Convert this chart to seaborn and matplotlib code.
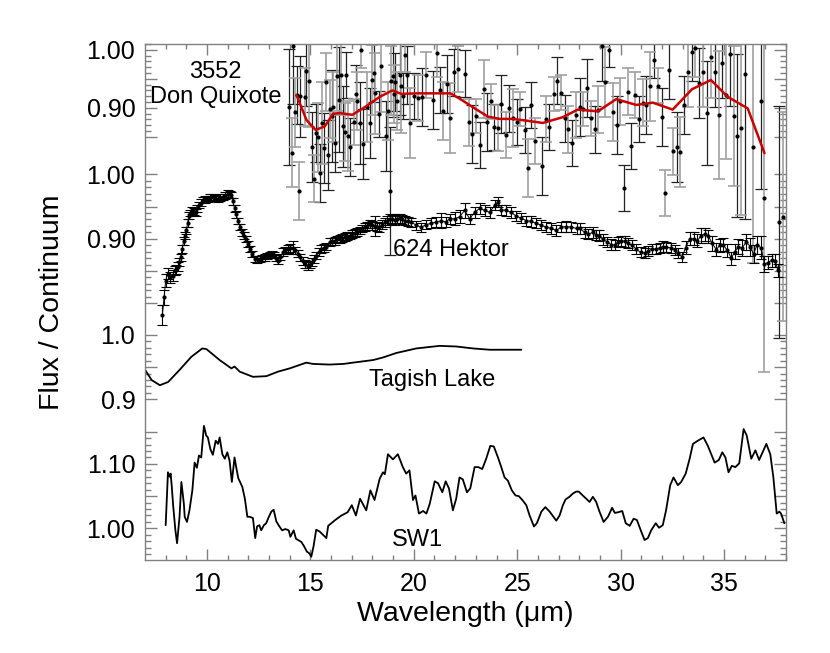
import numpy as np
import matplotlib
matplotlib.use("Agg")
import matplotlib.pyplot as plt
import seaborn as sns

# ---- 3552 Don Quixote: binned points with errors + smoothed curve ----
dq_wave = [13.98, 14.09, 14.17, 14.26, 14.36, 14.44, 14.52, 14.72, 14.81, 14.92,
           15.09, 15.18, 15.29, 15.36, 15.45, 15.54, 15.64, 15.73, 15.83, 15.94,
           16.02, 16.10, 16.21, 16.29, 16.37, 16.46, 16.58, 16.66, 16.74, 16.84,
           16.92, 17.10, 17.19, 17.26, 17.38, 17.46, 17.54, 17.73, 17.89, 17.97,
           18.06, 18.13, 18.31, 18.43, 18.64, 18.75, 18.83, 18.89, 18.97, 19.02,
           19.10, 19.18, 19.31, 19.39, 19.47, 19.57, 19.67, 19.83, 20.01, 20.20,
           20.40, 20.60, 20.92, 21.13, 21.25, 21.41, 21.61, 21.77, 21.94, 22.13,
           22.46, 22.66, 22.83, 23.02, 23.18, 23.38, 23.56, 23.72, 23.88, 24.07,
           24.24, 24.45, 24.60, 24.79, 24.98, 25.15, 25.37, 25.53, 25.68, 25.84,
           26.21, 26.40, 26.56, 26.76, 26.92, 27.10, 27.29, 27.46, 27.64, 27.82,
           28.02, 28.18, 28.37, 28.55, 28.74, 28.90, 29.10, 29.27, 29.43, 29.63,
           29.82, 29.98, 30.15, 30.35, 30.51, 30.72, 30.89, 31.07, 31.23, 31.43,
           31.60, 31.80, 32.00, 32.17, 32.33, 32.52, 32.72, 32.89, 33.05, 33.25,
           33.44, 33.62, 33.78, 33.98, 34.17, 34.35, 34.55, 34.74, 34.92, 35.12,
           35.27, 35.47, 35.64, 35.82, 36.04, 36.40, 36.77, 36.94, 37.66, 37.86]
dq_flux = [0.901, 0.823, 1.006, 0.892, 0.922, 0.757, 0.920, 0.918, 0.963, 0.947,
           0.832, 0.778, 0.856, 0.849, 0.787, 0.874, 0.831, 0.945, 0.819, 0.898,
           0.886, 0.901, 0.839, 0.955, 0.914, 0.957, 0.868, 0.859, 0.957, 0.851,
           0.833, 0.876, 0.924, 0.912, 0.874, 0.999, 0.838, 0.901, 0.874, 0.948,
           0.960, 0.925, 0.889, 0.972, 0.851, 0.895, 0.757, 0.947, 0.955, 0.924,
           0.945, 0.911, 0.957, 0.937, 0.920, 0.991, 0.957, 0.874, 0.920, 0.917,
           0.918, 0.957, 0.914, 0.994, 0.931, 0.895, 0.941, 0.882, 0.961, 0.967,
           0.959, 0.875, 0.855, 0.886, 0.836, 0.932, 0.876, 0.911, 0.867, 0.865,
           0.907, 0.853, 0.899, 0.882, 0.876, 0.898, 0.862, 0.796, 0.905, 0.843,
           0.800, 0.881, 0.867, 0.924, 0.947, 0.926, 0.882, 0.863, 0.839, 0.888,
           0.901, 0.898, 0.934, 0.882, 0.863, 0.897, 1.007, 0.944, 1.000, 0.893,
           0.871, 0.911, 0.762, 0.928, 0.834, 0.922, 0.881, 0.909, 0.905, 0.937,
           0.982, 0.938, 0.884, 0.753, 0.966, 0.825, 0.832, 0.824, 0.905, 0.962,
           0.997, 1.003, 0.943, 0.961, 0.891, 0.987, 0.961, 0.888, 0.977, 0.922,
           0.993, 0.886, 0.852, 0.866, 0.958, 0.833, 0.911, 0.745, 0.704, 0.712]
dq_err = [0.10, 0.06, 0.10, 0.06, 0.05, 0.05, 0.07, 0.05, 0.06, 0.08,
          0.06, 0.04, 0.05, 0.06, 0.05, 0.07, 0.06, 0.05, 0.06, 0.05,
          0.08, 0.06, 0.05, 0.06, 0.09, 0.07, 0.07, 0.05, 0.04, 0.06,
          0.05, 0.04, 0.05, 0.05, 0.07, 0.03, 0.06, 0.06, 0.06, 0.06,
          0.05, 0.07, 0.04, 0.08, 0.06, 0.05, 0.11, 0.06, 0.07, 0.05,
          0.05, 0.05, 0.07, 0.08, 0.04, 0.03, 0.05, 0.06, 0.04, 0.04,
          0.05, 0.04, 0.05, 0.04, 0.04, 0.05, 0.05, 0.06, 0.04, 0.04,
          0.04, 0.04, 0.05, 0.03, 0.04, 0.05, 0.05, 0.03, 0.04, 0.04,
          0.05, 0.04, 0.04, 0.05, 0.04, 0.03, 0.04, 0.05, 0.04, 0.04,
          0.05, 0.04, 0.04, 0.03, 0.04, 0.03, 0.04, 0.04, 0.04, 0.04,
          0.05, 0.03, 0.05, 0.03, 0.04, 0.04, 0.06, 0.06, 0.03, 0.05,
          0.05, 0.04, 0.04, 0.04, 0.04, 0.04, 0.04, 0.04, 0.05, 0.06,
          0.03, 0.03, 0.05, 0.04, 0.05, 0.04, 0.06, 0.06, 0.05, 0.06,
          0.05, 0.05, 0.06, 0.06, 0.09, 0.07, 0.06, 0.11, 0.06, 0.11,
          0.09, 0.12, 0.14, 0.15, 0.25, 0.20, 0.15, 0.30, 0.20, 0.18]
dq_smooth_wave = [14.33, 14.81, 15.25, 15.69, 16.10, 16.42, 17.03, 17.30, 17.71, 18.35,
                  18.96, 19.40, 20.12, 20.92, 21.77, 22.30, 22.86, 23.58, 24.15, 24.79,
                  25.44, 26.24, 27.21, 27.93, 28.90, 29.79, 30.76, 31.56, 32.52, 33.45,
                  34.37, 35.18, 36.15, 36.96]
dq_smooth_flux = [0.922, 0.879, 0.862, 0.868, 0.890, 0.891, 0.888, 0.894, 0.903, 0.919,
                  0.930, 0.924, 0.925, 0.925, 0.925, 0.914, 0.901, 0.885, 0.881, 0.881,
                  0.878, 0.874, 0.884, 0.897, 0.894, 0.915, 0.905, 0.909, 0.897, 0.932,
                  0.948, 0.919, 0.899, 0.822]

# ---- 624 Hektor ----
hek_wave = [7.84, 7.92, 8.00, 8.10, 8.20, 8.33, 8.43, 8.52, 8.60, 8.66,
            8.72, 8.80, 8.87, 8.94, 9.00, 9.06, 9.12, 9.20, 9.29, 9.37,
            9.45, 9.53, 9.61, 9.70, 9.80, 9.92, 10.04, 10.16, 10.28, 10.40,
            10.53, 10.65, 10.77, 10.89, 11.01, 11.09, 11.17, 11.25, 11.33, 11.41,
            11.49, 11.60, 11.71, 11.80, 11.90, 11.98, 12.06, 12.18, 12.30, 12.42,
            12.55, 12.67, 12.79, 12.91, 13.03, 13.13, 13.23, 13.33, 13.43, 13.55,
            13.67, 13.79, 13.91, 14.03, 14.15, 14.27, 14.40, 14.52, 14.64, 14.76,
            14.88, 14.97, 15.07, 15.17, 15.28, 15.40, 15.52, 15.64, 15.77, 15.93,
            16.05, 16.17, 16.29, 16.41, 16.54, 16.66, 16.78, 16.90, 17.02, 17.14,
            17.26, 17.38, 17.50, 17.62, 17.74, 17.86, 17.98, 18.10, 18.22, 18.34,
            18.47, 18.59, 18.71, 18.83, 18.95, 19.07, 19.19, 19.31, 19.43, 19.55,
            19.71, 19.87, 20.12, 20.36, 20.60, 20.84, 21.09, 21.33, 21.54, 21.73,
            21.97, 22.21, 22.46, 22.70, 22.94, 23.18, 23.42, 23.67, 23.91, 24.07,
            24.24, 24.47, 24.71, 24.96, 25.20, 25.44, 25.68, 25.92, 26.16, 26.41,
            26.65, 26.89, 27.13, 27.37, 27.62, 27.87, 28.02, 28.26, 28.42, 28.66,
            28.82, 28.98, 29.15, 29.36, 29.55, 29.71, 29.87, 30.03, 30.19, 30.35,
            30.56, 30.76, 30.97, 31.16, 31.32, 31.54, 31.73, 31.89, 32.05, 32.21,
            32.42, 32.61, 32.77, 32.98, 33.14, 33.34, 33.53, 33.71, 33.90, 34.06,
            34.25, 34.43, 34.63, 34.79, 34.95, 35.16, 35.36, 35.52, 35.70, 35.88,
            36.08, 36.27, 36.43, 36.59, 36.80, 36.96, 37.12, 37.32, 37.48, 37.61]
hek_flux = [0.782, 0.809, 0.835, 0.846, 0.840, 0.843, 0.851, 0.852, 0.857, 0.864,
            0.871, 0.884, 0.897, 0.905, 0.913, 0.925, 0.936, 0.940, 0.944, 0.942,
            0.941, 0.947, 0.952, 0.956, 0.960, 0.961, 0.962, 0.964, 0.965, 0.963,
            0.962, 0.964, 0.965, 0.967, 0.970, 0.969, 0.968, 0.958, 0.947, 0.938,
            0.928, 0.918, 0.910, 0.905, 0.900, 0.892, 0.884, 0.876, 0.869, 0.868,
            0.869, 0.870, 0.871, 0.873, 0.875, 0.876, 0.875, 0.870, 0.866, 0.872,
            0.879, 0.882, 0.884, 0.886, 0.886, 0.882, 0.877, 0.871, 0.866, 0.861,
            0.858, 0.860, 0.864, 0.869, 0.874, 0.879, 0.884, 0.886, 0.888, 0.895,
            0.896, 0.897, 0.899, 0.900, 0.901, 0.903, 0.904, 0.905, 0.907, 0.909,
            0.911, 0.913, 0.916, 0.918, 0.920, 0.923, 0.921, 0.920, 0.919, 0.918,
            0.922, 0.926, 0.928, 0.931, 0.930, 0.929, 0.931, 0.932, 0.930, 0.928,
            0.927, 0.926, 0.921, 0.918, 0.922, 0.924, 0.926, 0.928, 0.926, 0.931,
            0.931, 0.934, 0.944, 0.931, 0.941, 0.947, 0.944, 0.941, 0.952, 0.957,
            0.945, 0.944, 0.941, 0.935, 0.932, 0.928, 0.927, 0.924, 0.921, 0.918,
            0.916, 0.913, 0.918, 0.919, 0.918, 0.916, 0.916, 0.910, 0.907, 0.910,
            0.906, 0.905, 0.899, 0.895, 0.891, 0.890, 0.895, 0.897, 0.896, 0.893,
            0.890, 0.884, 0.879, 0.878, 0.881, 0.884, 0.884, 0.886, 0.888, 0.887,
            0.886, 0.883, 0.878, 0.872, 0.886, 0.900, 0.900, 0.897, 0.905, 0.907,
            0.904, 0.893, 0.883, 0.890, 0.891, 0.882, 0.870, 0.880, 0.888, 0.886,
            0.895, 0.888, 0.876, 0.890, 0.886, 0.861, 0.863, 0.867, 0.866, 0.851]
hek_err = [0.015, 0.012, 0.010, 0.008, 0.008, 0.008, 0.007, 0.007, 0.007, 0.006,
           0.006, 0.006, 0.006, 0.006, 0.006, 0.006, 0.006, 0.005, 0.005, 0.005,
           0.005, 0.005, 0.005, 0.005, 0.005, 0.005, 0.005, 0.005, 0.005, 0.005,
           0.005, 0.005, 0.005, 0.005, 0.005, 0.005, 0.005, 0.005, 0.005, 0.005,
           0.005, 0.005, 0.005, 0.005, 0.005, 0.005, 0.005, 0.005, 0.005, 0.005,
           0.005, 0.005, 0.005, 0.005, 0.005, 0.005, 0.005, 0.005, 0.005, 0.005,
           0.006, 0.006, 0.006, 0.006, 0.010, 0.006, 0.006, 0.006, 0.006, 0.006,
           0.006, 0.006, 0.006, 0.006, 0.006, 0.006, 0.006, 0.006, 0.006, 0.006,
           0.006, 0.006, 0.006, 0.006, 0.006, 0.006, 0.006, 0.006, 0.006, 0.006,
           0.006, 0.006, 0.006, 0.006, 0.006, 0.006, 0.007, 0.015, 0.007, 0.007,
           0.007, 0.007, 0.007, 0.007, 0.007, 0.007, 0.007, 0.007, 0.007, 0.007,
           0.007, 0.007, 0.007, 0.007, 0.007, 0.008, 0.008, 0.012, 0.008, 0.008,
           0.010, 0.010, 0.012, 0.008, 0.008, 0.008, 0.008, 0.008, 0.008, 0.008,
           0.008, 0.008, 0.008, 0.008, 0.008, 0.008, 0.008, 0.008, 0.008, 0.008,
           0.008, 0.008, 0.008, 0.008, 0.008, 0.008, 0.008, 0.008, 0.008, 0.008,
           0.008, 0.008, 0.008, 0.008, 0.008, 0.008, 0.008, 0.008, 0.008, 0.008,
           0.008, 0.008, 0.008, 0.008, 0.008, 0.008, 0.008, 0.008, 0.008, 0.008,
           0.008, 0.008, 0.008, 0.008, 0.010, 0.010, 0.010, 0.010, 0.012, 0.010,
           0.010, 0.012, 0.010, 0.010, 0.010, 0.010, 0.010, 0.012, 0.012, 0.012,
           0.012, 0.014, 0.014, 0.014, 0.018, 0.012, 0.010, 0.010, 0.010, 0.010]

# ---- Tagish Lake ----
tl_wave = [7.00, 7.32, 7.72, 8.12, 8.68, 9.24, 9.77, 9.97, 10.61, 11.18,
           11.33, 11.58, 12.22, 12.87, 13.43, 13.99, 14.80, 15.12, 15.92, 16.60,
           17.06, 18.03, 18.51, 19.16, 20.12, 21.25, 22.06, 22.86, 23.67, 24.47,
           25.20]
tl_flux = [0.946, 0.930, 0.922, 0.927, 0.946, 0.966, 0.979, 0.978, 0.961, 0.948,
           0.951, 0.943, 0.935, 0.936, 0.943, 0.948, 0.957, 0.955, 0.954, 0.955,
           0.957, 0.961, 0.965, 0.972, 0.979, 0.983, 0.982, 0.979, 0.977, 0.977,
           0.977]

# ---- SW1 ----
sw_wave = [8.00, 8.11, 8.19, 8.24, 8.29, 8.36, 8.47, 8.55, 8.67, 8.76,
           8.88, 8.92, 9.03, 9.15, 9.29, 9.40, 9.51, 9.61, 9.72, 9.85,
           9.96, 10.04, 10.16, 10.28, 10.42, 10.53, 10.61, 10.74, 10.86, 10.98,
           11.09, 11.20, 11.33, 11.41, 11.51, 11.71, 11.83, 11.95, 12.07, 12.22,
           12.33, 12.42, 12.53, 12.62, 12.75, 12.86, 12.99, 13.11, 13.22, 13.35,
           13.46, 13.63, 13.79, 13.95, 14.03, 14.19, 14.30, 14.40, 14.56, 14.68,
           14.83, 14.96, 15.04, 15.15, 15.28, 15.45, 15.77, 15.86, 16.20, 16.50,
           16.80, 17.00, 17.20, 17.40, 17.70, 17.90, 18.10, 18.35, 18.51, 18.60,
           18.75, 18.99, 19.23, 19.47, 19.63, 19.79, 19.96, 20.08, 20.25, 20.45,
           20.61, 20.77, 21.01, 21.17, 21.38, 21.54, 21.70, 21.89, 22.05, 22.21,
           22.37, 22.57, 22.73, 22.94, 23.12, 23.31, 23.50, 23.70, 23.87, 24.07,
           24.23, 24.39, 24.55, 24.74, 24.92, 25.08, 25.25, 25.44, 25.60, 25.81,
           25.95, 26.17, 26.36, 26.57, 26.73, 26.89, 27.05, 27.21, 27.34, 27.53,
           27.69, 27.85, 27.98, 28.17, 28.34, 28.50, 28.66, 28.82, 28.98, 29.18,
           29.39, 29.59, 29.72, 29.88, 30.08, 30.25, 30.44, 30.63, 30.79, 31.00,
           31.16, 31.32, 31.48, 31.70, 31.86, 32.04, 32.20, 32.40, 32.56, 32.77,
           32.93, 33.15, 33.34, 33.50, 33.74, 34.01, 34.22, 34.55, 34.75, 34.92,
           35.07, 35.22, 35.38, 35.55, 35.74, 35.95, 36.10, 36.32, 36.52, 36.70,
           37.05, 37.24, 37.39, 37.55, 37.68, 37.76, 37.92]
sw_flux = [1.005, 1.087, 1.080, 1.085, 1.067, 1.036, 0.997, 0.977, 1.018, 1.072,
           1.038, 1.018, 1.010, 1.028, 1.059, 1.102, 1.094, 1.113, 1.110, 1.159,
           1.144, 1.141, 1.123, 1.114, 1.136, 1.131, 1.141, 1.115, 1.108, 1.118,
           1.105, 1.072, 1.110, 1.095, 1.078, 1.064, 1.046, 1.018, 1.018, 1.016,
           0.985, 1.003, 1.005, 0.997, 1.005, 1.008, 1.018, 1.026, 1.029, 1.011,
           1.005, 0.997, 0.999, 0.997, 0.987, 0.997, 0.984, 0.982, 0.979, 0.973,
           0.964, 0.961, 0.956, 0.972, 0.998, 0.995, 0.985, 1.004, 1.013, 1.020,
           1.025, 1.036, 1.020, 1.046, 1.028, 1.059, 1.044, 1.077, 1.087, 1.084,
           1.115, 1.107, 1.115, 1.095, 1.085, 1.090, 1.044, 1.051, 1.023, 1.027,
           1.023, 1.038, 1.073, 1.070, 1.056, 1.073, 1.062, 1.028, 1.046, 1.079,
           1.076, 1.056, 1.062, 1.095, 1.095, 1.092, 1.108, 1.128, 1.127, 1.110,
           1.095, 1.079, 1.074, 1.059, 1.051, 1.050, 1.044, 1.036, 1.020, 1.003,
           1.008, 1.026, 1.033, 1.026, 1.019, 1.012, 1.020, 1.036, 1.045, 1.049,
           1.054, 1.057, 1.057, 1.051, 1.046, 1.041, 1.049, 1.041, 1.026, 1.010,
           1.018, 1.032, 1.024, 1.025, 1.027, 1.008, 1.004, 1.015, 1.013, 0.995,
           0.982, 0.985, 0.997, 1.008, 1.001, 1.005, 1.028, 1.067, 1.079, 1.067,
           1.072, 1.085, 1.108, 1.131, 1.136, 1.141, 1.128, 1.102, 1.106, 1.118,
           1.110, 1.087, 1.097, 1.095, 1.101, 1.154, 1.144, 1.108, 1.121, 1.106,
           1.131, 1.115, 1.079, 1.023, 1.026, 1.023, 1.008]

assert len(dq_wave) == len(dq_flux) == len(dq_err)
assert len(hek_wave) == len(hek_flux) == len(hek_err)
assert len(sw_wave) == len(sw_flux) and len(tl_wave) == len(tl_flux)

# where flux = 1 sits on the stacked axis, and vertical scale of each spectrum
panels = {"dq": (0.791, 0.90), "hek": (0.598, 1.0), "tl": (0.349, 1.0), "sw": (0.049, 1.0)}


def stack(v, key):
    base, scale = panels[key]
    return base + scale * (np.asarray(v, dtype=float) - 1.0)


sns.set_style("ticks")
plt.rcParams['font.family'] = ['Liberation Sans', 'DejaVu Sans']
plt.rcParams['text.color'] = 'black'
plt.rcParams['axes.labelcolor'] = 'black'
grey = '#808080'

fig = plt.figure(figsize=(8.3, 6.53), dpi=100)
ax = fig.add_axes([145 / 830, 93 / 653, 641 / 830, 516 / 653])

# Don Quixote: error bars alternate black / grey
x = np.array(dq_wave)
y = stack(dq_flux, "dq")
e = 0.90 * np.array(dq_err)
ax.errorbar(x[::2], y[::2], yerr=e[::2], fmt='none', ecolor='#222222',
            elinewidth=0.9, capsize=4, capthick=0.9)
ax.errorbar(x[1::2], y[1::2], yerr=e[1::2], fmt='none', ecolor='#a0a0a0',
            elinewidth=1.2, capsize=4, capthick=1.2)
sns.scatterplot(x=x, y=y, ax=ax, color='black', s=9, linewidth=0, zorder=3)
sns.lineplot(x=dq_smooth_wave, y=stack(dq_smooth_flux, "dq"), ax=ax,
             color='#cc0000', lw=1.8, sort=False, estimator=None, zorder=4)

# Hektor
ax.errorbar(hek_wave, stack(hek_flux, "hek"), yerr=hek_err, fmt='-o', color='black',
            ms=2, lw=0.7, elinewidth=0.8, capsize=3.5, capthick=0.8)

# Tagish Lake and SW1
sns.lineplot(x=tl_wave, y=stack(tl_flux, "tl"), ax=ax, color='black', lw=1.3,
             sort=False, estimator=None)
sns.lineplot(x=sw_wave, y=stack(sw_flux, "sw"), ax=ax, color='black', lw=1.3,
             sort=False, estimator=None)

# labels on the spectra
ax.text(10.4, 0.757, "3552", ha='center', va='center', fontsize=17, color='black')
ax.text(10.4, 0.718, "Don Quixote", ha='center', va='center', fontsize=17, color='black')
ax.text(21.8, 0.481, "624 Hektor", ha='center', va='center', fontsize=17, color='black')
ax.text(20.9, 0.279, "Tagish Lake", ha='center', va='center', fontsize=17, color='black')
ax.text(20.2, 0.031, "SW1", ha='center', va='center', fontsize=17, color='black')

# per-spectrum y ticks: labelled, long unlabelled, minor range
tick_spec = [
    ("dq", {1.00: "1.00", 0.90: "0.90"}, [0.95, 0.85], (0.85, 1.01)),
    ("hek", {1.00: "1.00", 0.90: "0.90"}, [0.95, 0.85, 0.80], (0.80, 1.00)),
    ("tl", {1.0: "1.0", 0.9: "0.9"}, [0.95], (0.90, 1.00)),
    ("sw", {1.10: "1.10", 1.00: "1.00"}, [1.15, 1.05], (0.96, 1.15)),
]
major_pos, major_lab, minor_pos = [], [], []
for key, labelled, longs, (lo, hi) in tick_spec:
    for v, s in labelled.items():
        major_pos.append(float(stack(v, key)))
        major_lab.append(s)
    for v in longs:
        major_pos.append(float(stack(v, key)))
        major_lab.append("")
    minor_pos.extend(stack(np.arange(lo, hi + 0.001, 0.01), key).tolist())
ax.set_yticks(major_pos, major_lab)
ax.set_yticks(minor_pos, minor=True)

ax.set_xticks([10, 15, 20, 25, 30, 35])
ax.set_xticks(np.arange(8, 39, 1), minor=True)
ax.set_xlim(7, 38)
ax.set_ylim(0, 0.8)

ax.tick_params(which='both', direction='in', top=True, right=True, color=grey,
               width=1, labelcolor='black')
ax.tick_params(axis='y', which='major', length=8.5, labelsize=18, pad=7)
ax.tick_params(axis='y', which='minor', length=4.2)
ax.tick_params(axis='x', which='major', length=8, labelsize=18, pad=8.5)
ax.tick_params(axis='x', which='minor', length=3.8)
for sp in ax.spines.values():
    sp.set_color(grey)
    sp.set_linewidth(1)

ax.set_xlabel("Wavelength (μm)", fontsize=20.5)
ax.set_ylabel("Flux / Continuum", fontsize=20.5)
ax.xaxis.set_label_coords(0.5, -0.08)
ax.yaxis.set_label_coords(-0.125, 0.5)

fig.savefig("out.png", dpi=100)
